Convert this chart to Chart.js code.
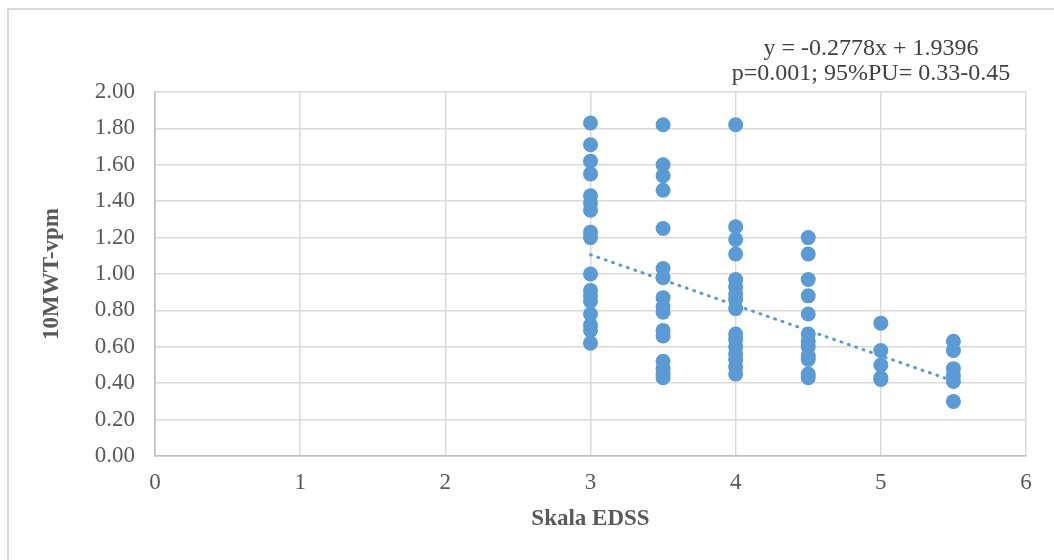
<!DOCTYPE html>
<html>
<head>
<meta charset="utf-8">
<script src="https://cdn.jsdelivr.net/npm/chart.js@4/dist/chart.umd.min.js"></script>
<style>
  html, body { margin: 0; padding: 0; background: #fff; }
  #wrap { position: relative; width: 1054px; height: 560px; overflow: hidden; }
  #frame { position: absolute; left: 7px; top: 8px; width: 1100px; height: 600px; border: 2px solid #d9d9d9; }
  #lineChart { position: absolute; left: 0; top: 0; }
</style>
</head>
<body>
<div id="wrap">
  <div id="frame"></div>
  <canvas id="lineChart" width="1054" height="560"></canvas>
</div>
<script>
// EDSS levels and 10MWT values
const edssLevels = [3, 3.5, 4, 4.5, 5, 5.5];
const edss30 = [1.83, 1.71, 1.62, 1.55, 1.43, 1.39, 1.35, 1.23, 1.20, 1.00, 0.91, 0.88, 0.85, 0.78, 0.72, 0.69, 0.62];
const edss35 = [1.82, 1.60, 1.54, 1.46, 1.25, 1.03, 0.98, 0.87, 0.82, 0.79, 0.69, 0.66, 0.52, 0.48, 0.45, 0.43];
const edss40 = [1.82, 1.26, 1.19, 1.11, 0.97, 0.93, 0.89, 0.86, 0.81, 0.67, 0.64, 0.60, 0.56, 0.53, 0.49, 0.45];
const edss45 = [1.20, 1.11, 0.97, 0.88, 0.78, 0.67, 0.63, 0.60, 0.55, 0.53, 0.45, 0.43];
const edss50 = [0.73, 0.58, 0.50, 0.43, 0.42];
const edss55 = [0.63, 0.58, 0.48, 0.44, 0.41, 0.30];

// trendline ends
const trendX = [3, 5.5];
const trendY = [1.106, 0.412];

const annotationLines = ['y = -0.2778x + 1.9396', 'p=0.001; 95%PU= 0.33-0.45'];

const columns = [edss30, edss35, edss40, edss45, edss50, edss55];
const points = [];
columns.forEach((vals, i) => {
  vals.forEach(v => points.push({ x: edssLevels[i], y: v }));
});
const trendPoints = trendX.map((x, i) => ({ x: x, y: trendY[i] }));

const serif = '"Liberation Serif", "Times New Roman", serif';
const textColor = '#595959';

const annotationPlugin = {
  id: 'annotationText',
  afterDraw(chart) {
    const c = chart.ctx;
    c.save();
    c.font = '24px ' + serif;
    c.fillStyle = '#404040';
    c.textAlign = 'center';
    c.textBaseline = 'alphabetic';
    c.fillText(annotationLines[0], 871, 55);
    c.fillText(annotationLines[1], 871, 80);
    c.restore();
  }
};

const ctx = document.getElementById('lineChart').getContext('2d');
new Chart(ctx, {
  type: 'scatter',
  data: {
    datasets: [
      {
        label: 'trend',
        type: 'line',
        data: trendPoints,
        borderColor: '#5b9bd5',
        borderWidth: 3,
        borderDash: [1, 6.8],
        borderCapStyle: 'round',
        pointRadius: 0,
        fill: false,
        order: 0
      },
      {
        label: '10MWT-vpm',
        data: points,
        backgroundColor: '#5b9bd5',
        borderWidth: 0,
        pointRadius: 7.5,
        pointHoverRadius: 7.5,
        order: 1
      }
    ]
  },
  options: {
    responsive: false,
    animation: false,
    layout: { padding: { left: 34, top: 92, right: 28, bottom: 23 } },
    plugins: { legend: { display: false }, tooltip: { enabled: false } },
    scales: {
      x: {
        type: 'linear',
        min: 0,
        max: 6,
        afterFit(scale) { scale.height = 81; },
        ticks: { stepSize: 1, padding: 13, color: textColor, font: { family: serif, size: 23 } },
        grid: { color: '#d9d9d9', lineWidth: 1.5, drawTicks: false },
        border: { color: '#bfbfbf', width: 1.5 },
        title: { display: true, text: 'Skala EDSS', color: textColor, font: { family: serif, size: 23, weight: 'bold' } }
      },
      y: {
        min: 0,
        max: 2,
        afterFit(scale) { scale.width = 121; },
        ticks: {
          stepSize: 0.2,
          padding: 20,
          color: textColor,
          font: { family: serif, size: 23 },
          callback: v => Number(v).toFixed(2)
        },
        grid: { color: '#d9d9d9', lineWidth: 1.5, drawTicks: false },
        border: { color: '#bfbfbf', width: 1.5 },
        title: { display: true, text: '10MWT-vpm', color: textColor, font: { family: serif, size: 23, weight: 'bold' } }
      }
    }
  },
  plugins: [annotationPlugin]
});
</script>
</body>
</html>
